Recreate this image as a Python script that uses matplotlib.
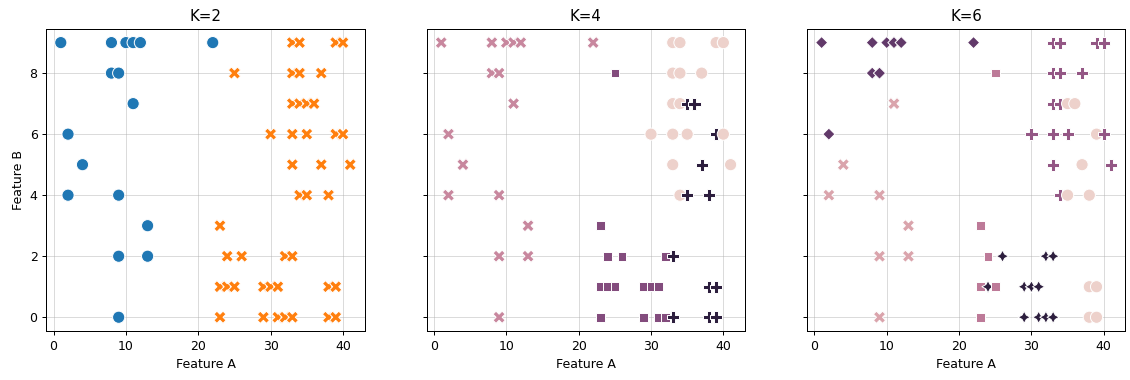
import matplotlib
matplotlib.use("Agg")
import matplotlib.pyplot as plt
import seaborn as sns
import pandas as pd

# points (Feature A, Feature B) and cluster labels for each K
feat_a = [1, 8, 10, 11, 12, 22, 33, 34, 39, 40,
          8, 9, 25, 33, 34, 37,
          11, 33, 34, 35, 36,
          2, 30, 33, 35, 39, 40,
          4, 33, 37, 41,
          2, 9, 34, 35, 38,
          13, 23,
          9, 13, 24, 26, 32, 33,
          23, 24, 25, 29, 30, 31, 38, 39,
          9, 23, 29, 31, 32, 33, 38, 39]
feat_b = [9, 9, 9, 9, 9, 9, 9, 9, 9, 9,
          8, 8, 8, 8, 8, 8,
          7, 7, 7, 7, 7,
          6, 6, 6, 6, 6, 6,
          5, 5, 5, 5,
          4, 4, 4, 4, 4,
          3, 3,
          2, 2, 2, 2, 2, 2,
          1, 1, 1, 1, 1, 1, 1, 1,
          0, 0, 0, 0, 0, 0, 0, 0]
k2 = [0, 0, 0, 0, 0, 0, 1, 1, 1, 1,
      0, 0, 1, 1, 1, 1,
      0, 1, 1, 1, 1,
      0, 1, 1, 1, 1, 1,
      0, 1, 1, 1,
      0, 0, 1, 1, 1,
      0, 1,
      0, 0, 1, 1, 1, 1,
      1, 1, 1, 1, 1, 1, 1, 1,
      0, 1, 1, 1, 1, 1, 1, 1]
k4 = [1, 1, 1, 1, 1, 1, 0, 0, 0, 0,
      1, 1, 2, 0, 0, 0,
      1, 0, 0, 3, 3,
      1, 0, 0, 0, 3, 0,
      1, 0, 3, 0,
      1, 1, 0, 3, 3,
      1, 2,
      1, 1, 2, 2, 2, 3,
      2, 2, 2, 2, 2, 2, 3, 3,
      1, 2, 2, 2, 2, 3, 3, 3]
k6 = [4, 4, 4, 4, 4, 4, 3, 3, 3, 3,
      4, 4, 2, 3, 3, 3,
      1, 3, 3, 0, 0,
      4, 3, 3, 3, 0, 3,
      1, 3, 0, 3,
      1, 1, 3, 0, 0,
      1, 2,
      1, 1, 2, 5, 5, 5,
      2, 5, 2, 5, 5, 5, 0, 0,
      1, 2, 5, 5, 5, 5, 0, 0]

df = pd.DataFrame({"Feature A": feat_a, "Feature B": feat_b,
                   "k2": k2, "k4": k4, "k6": k6})

fig, axes = plt.subplots(1, 3, sharey=True, figsize=(1130 / 90, 380 / 90), dpi=90)

sns.scatterplot(data=df, x="Feature A", y="Feature B", hue="k2", style="k2",
                palette=["tab:blue", "tab:orange"], s=95, legend=False, ax=axes[0])
sns.scatterplot(data=df, x="Feature A", y="Feature B", hue="k4", style="k4",
                s=95, legend=False, ax=axes[1])
sns.scatterplot(data=df, x="Feature A", y="Feature B", hue="k6", style="k6",
                s=95, legend=False, ax=axes[2])

for ax, k in zip(axes, [2, 4, 6]):
    ax.set_title(f"K={k}")
    ax.grid(alpha=0.45)
    ax.set_axisbelow(True)
    ax.set_xticks([0, 10, 20, 30, 40])
    ax.set_yticks([0, 2, 4, 6, 8])
axes[1].set_ylabel("")
axes[2].set_ylabel("")

plt.subplots_adjust(left=0.041, right=0.996, bottom=0.129, top=0.924, wspace=0.195)
plt.savefig("out.png", dpi=90)
